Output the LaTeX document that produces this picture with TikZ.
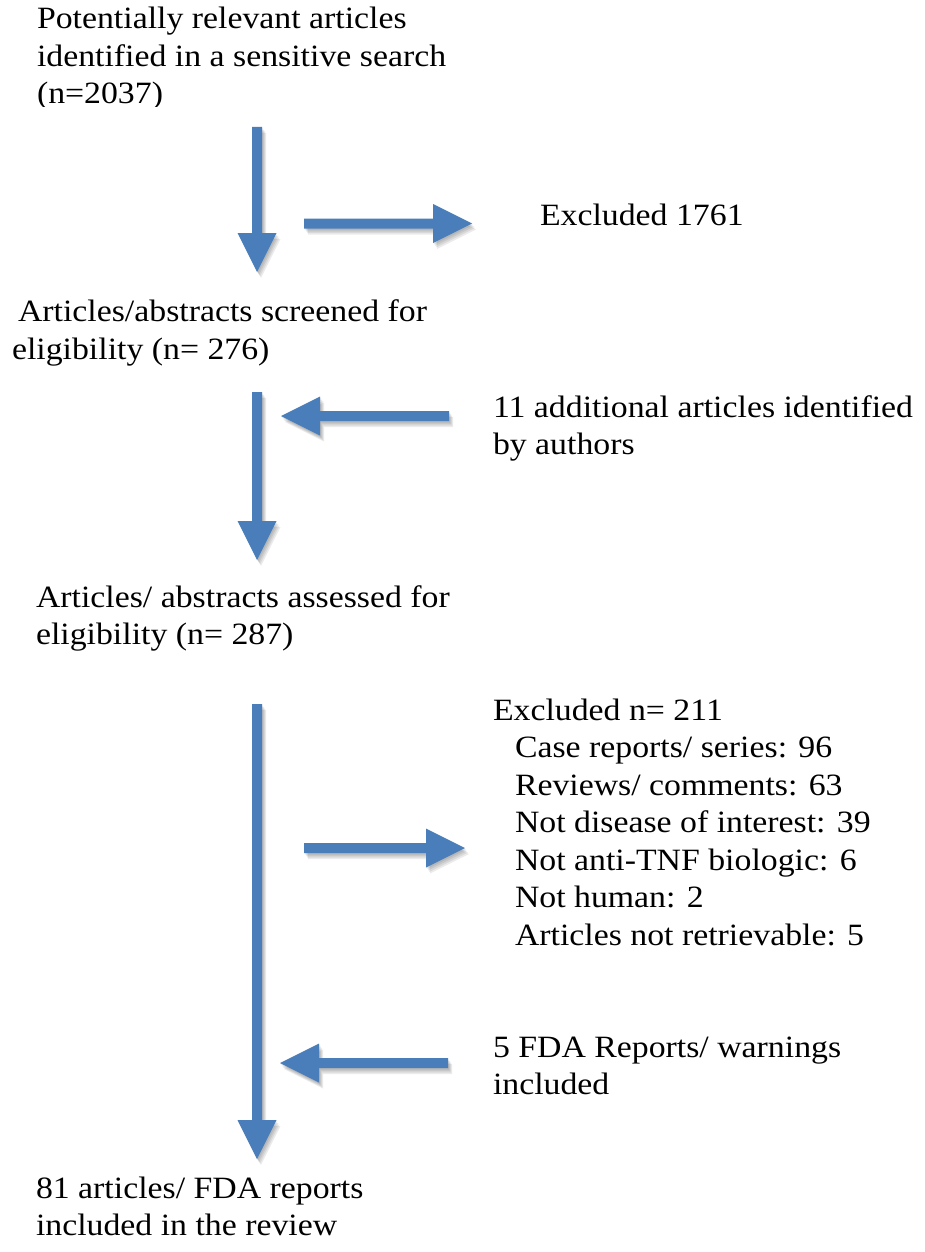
\documentclass[tikz,border=0pt]{standalone}
\usepackage{fontspec}
\setmainfont{Liberation Serif}[FakeStretch=1.09]
\usetikzlibrary{calc}
\definecolor{arrowblue}{RGB}{74,126,187}
\newcommand\bapoly[2]{($(#1)!5pt!90:(#2)$) -- ($(bahead)!5pt!90:(#2)$) -- ($(bahead)!19.5pt!90:(#2)$) -- (#2) -- ($(bahead)!19.5pt!-90:(#2)$) -- ($(bahead)!5pt!-90:(#2)$) -- ($(#1)!5pt!-90:(#2)$) -- cycle}
\newcommand\blockarrow[2]{%
  \coordinate (bahead) at ($(#2)!39pt!(#1)$);
  \fill[shadowlayer, transform canvas={shift={(1pt,-1.5pt)}}] \bapoly{#1}{#2};
  \fill[shadowlayer, transform canvas={shift={(2pt,-3pt)}}] \bapoly{#1}{#2};
  \fill[shadowlayer, transform canvas={shift={(3pt,-4.5pt)}}] \bapoly{#1}{#2};
  \fill[shadowlayer, transform canvas={shift={(4pt,-6pt)}}] \bapoly{#1}{#2};
  \fill[arrowfill] \bapoly{#1}{#2};
}
\begin{document}
\begin{tikzpicture}[x=1pt,y=-1pt,
  shadowlayer/.style={fill=black, opacity=0.08},
  arrowfill/.style={fill=arrowblue},
  lbl/.style={anchor=base west, inner sep=0pt, outer sep=0pt,
    font=\fontsize{31}{37.5}\selectfont}]
\useasboundingbox[fill=white] (0,0) rectangle (925,1252);
% arrow end points
\coordinate (a1s) at (257,127);   \coordinate (a1e) at (257,272);
\coordinate (a2s) at (304,223.5); \coordinate (a2e) at (472,223.5);
\coordinate (a3s) at (257,392);   \coordinate (a3e) at (257,560);
\coordinate (a4s) at (449,416);   \coordinate (a4e) at (281,416);
\coordinate (a5s) at (257,704);   \coordinate (a5e) at (257,1159);
\coordinate (a6s) at (304,848);   \coordinate (a6e) at (465,848);
\coordinate (a7s) at (448,1063);  \coordinate (a7e) at (280,1063);
\blockarrow{a1s}{a1e}
\blockarrow{a2s}{a2e}
\blockarrow{a3s}{a3e}
\blockarrow{a4s}{a4e}
\blockarrow{a5s}{a5e}
\blockarrow{a6s}{a6e}
\blockarrow{a7s}{a7e}
% texts
\begin{scope}
\clip (0,0) rectangle (925,107);
\node[lbl] (t1) at (37,29) {\begin{tabular}[t]{@{}l@{}}Potentially relevant articles\\identified in a sensitive search\\(n=2037)\end{tabular}};
\end{scope}
\node[lbl] (t2) at (540,225) {Excluded 1761};
\node[lbl] (t3) at (12,321.7) {\begin{tabular}[t]{@{}l@{}}\hspace*{6pt}Articles/abstracts screened for\\eligibility (n= 276)\end{tabular}};
\node[lbl] (t4) at (493,417) {\begin{tabular}[t]{@{}l@{}}11 additional articles identified\\by authors\end{tabular}};
\node[lbl] (t5) at (36,607) {\begin{tabular}[t]{@{}l@{}}Articles/ abstracts assessed for\\eligibility (n= 287)\end{tabular}};
\node[lbl] (t6) at (493,720) {\begin{tabular}[t]{@{}l@{}}Excluded n= 211\\
\hspace*{22pt}Case reports/ series: 96\\
\hspace*{22pt}Reviews/ comments: 63\\
\hspace*{22pt}Not disease of interest: 39\\
\hspace*{22pt}Not anti-TNF biologic: 6\\
\hspace*{22pt}Not human: 2\\
\hspace*{22pt}Articles not retrievable: 5\end{tabular}};
\node[lbl] (t7) at (493,1057) {\begin{tabular}[t]{@{}l@{}}5 FDA Reports/ warnings\\included\end{tabular}};
\node[lbl] (t8) at (36,1198) {\begin{tabular}[t]{@{}l@{}}81 articles/ FDA reports\\included in the review\end{tabular}};
\end{tikzpicture}
\end{document}
